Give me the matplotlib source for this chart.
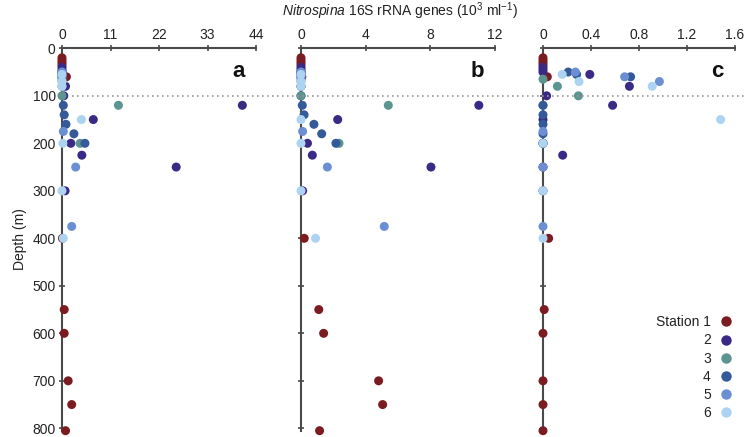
import matplotlib
matplotlib.use("Agg")
import matplotlib.pyplot as plt
import matplotlib.transforms as mtransforms
from matplotlib.lines import Line2D

plt.rcParams['font.family'] = ['Liberation Sans', 'DejaVu Sans']
plt.rcParams['mathtext.fontset'] = 'custom'
plt.rcParams['mathtext.rm'] = 'Liberation Sans'
plt.rcParams['mathtext.it'] = 'Liberation Sans:italic'

# station labels and colours
station_labels = ['Station 1', '2', '3', '4', '5', '6']
station_colors = ['#7b1c22', '#3a2a85', '#5b9490', '#345a9a', '#6c8fd4', '#acd4f2']

# depths (m) per station
depth_s1 = [20, 25, 30, 35, 60, 400, 550, 600, 700, 750, 805]
depth_s2 = [40, 45, 50, 55, 80, 100, 120, 150, 200, 225, 250, 300]
depth_s3 = [65, 80, 100, 120, 200]
depth_s4 = [50, 55, 60, 120, 140, 160, 180, 200]
depth_s5 = [50, 60, 70, 175, 250, 375]
depth_s6 = [55, 70, 80, 150, 200, 300, 400]

# panel a values
a_s1 = [0, 0, 0, 0, 1.0, 0.1, 0.5, 0.5, 1.4, 2.2, 0.8]
a_s2 = [0, 0, 0, 0, 0.8, 0.4, 40.9, 7.1, 2.0, 4.5, 25.9, 0.7]
a_s3 = [0, 0, 0, 12.8, 4.1]
a_s4 = [0, 0, 0, 0.3, 0.5, 0.9, 2.7, 5.2]
a_s5 = [0, 0, 0, 0.3, 3.1, 2.2]
a_s6 = [0, 0, 0, 4.4, 0.2, 0, 0.3]

# panel b values
b_s1 = [0, 0, 0, 0, 0.05, 0.2, 1.1, 1.4, 4.8, 5.05, 1.15]
b_s2 = [0, 0, 0, 0, 0, 0, 11.0, 2.27, 0.4, 0.7, 8.04, 0.1]
b_s3 = [0, 0, 0, 5.4, 2.35]
b_s4 = [0, 0, 0, 0.08, 0.19, 0.8, 1.28, 2.16]
b_s5 = [0, 0, 0, 0.1, 1.63, 5.15]
b_s6 = [0, 0, 0, 0, 0, 0, 0.9]

# panel c values
c_s1 = [0, 0, 0, 0, 0.036, 0.047, 0.01, 0, 0, 0, 0]
c_s2 = [0, 0, 0, 0.39, 0.72, 0.03, 0.58, 0, 0, 0.164, 0, 0]
c_s3 = [0, 0.12, 0.295, 0, 0]
c_s4 = [0.21, 0.28, 0.73, 0, 0, 0, 0, 0]
c_s5 = [0.27, 0.68, 0.97, 0, 0, 0]
c_s6 = [0.16, 0.30, 0.91, 1.48, 0, 0, 0]

depths = [depth_s1, depth_s2, depth_s3, depth_s4, depth_s5, depth_s6]
panel_vals = [
    [a_s1, a_s2, a_s3, a_s4, a_s5, a_s6],
    [b_s1, b_s2, b_s3, b_s4, b_s5, b_s6],
    [c_s1, c_s2, c_s3, c_s4, c_s5, c_s6],
]
panel_letters = ['a', 'b', 'c']
panel_xticks = [[0, 11, 22, 33, 44], [0, 4, 8, 12], [0, 0.4, 0.8, 1.2, 1.6]]
panel_xticklabels = [['0', '11', '22', '33', '44'], ['0', '4', '8', '12'],
                     ['0', '0.4', '0.8', '1.2', '1.6']]
depth_ticks = [0, 100, 200, 300, 400, 500, 600, 700, 800]

W, H = 746, 437
fig = plt.figure(figsize=(W / 100, H / 100), dpi=100)
lefts = [62, 301, 543]
widths = [194, 194, 192]
top_px, bot_px = 48.3, 430.7
txt_col = '#222222'
spine_col = '#4a4a4a'

axes = []
for i in range(3):
    ax = fig.add_axes([lefts[i] / W, 1 - bot_px / H, widths[i] / W, (bot_px - top_px) / H])
    ax.set_facecolor('none')
    for s, v, c in zip(depths, panel_vals[i], station_colors):
        ax.scatter(v, s, s=42, color=c, edgecolors='none', clip_on=False, zorder=3)
    ax.set_xlim(0, panel_xticks[i][-1])
    ax.set_ylim(805, 0)
    ax.spines['bottom'].set_visible(False)
    ax.spines['right'].set_visible(False)
    for sp in ['top', 'left']:
        ax.spines[sp].set_color(spine_col)
        ax.spines[sp].set_linewidth(1.5)
    ax.xaxis.tick_top()
    ax.set_xticks(panel_xticks[i])
    ax.set_xticklabels(panel_xticklabels[i])
    ax.set_yticks(depth_ticks)
    if i > 0:
        ax.set_yticklabels([])
    ax.tick_params(axis='both', direction='inout', length=5, width=1.2,
                   color=spine_col, labelsize=10, labelcolor=txt_col, pad=2)
    ax.text(0.91, 0.94, panel_letters[i], transform=ax.transAxes, fontsize=16,
            fontweight='bold', ha='center', va='center', color='#111111')
    axes.append(ax)

axes[0].set_ylabel('Depth (m)', fontsize=10, color=txt_col, labelpad=4)

fig.text(0.536, 0.975, r'$\it{Nitrospina}$ 16S rRNA genes (10$^{3}$ ml$^{-1}$)',
         fontsize=10, ha='center', va='center', color=txt_col)

# dotted reference line at 100 m across all panels
blend = mtransforms.blended_transform_factory(fig.transFigure, axes[0].transData)
fig.add_artist(Line2D([72 / W, 745 / W], [100, 100], transform=blend,
                      color='#9a9a9a', lw=1.2, ls=(0, (1, 2))))

handles = [Line2D([], [], marker='o', ls='', color=c, markersize=7.5, markeredgewidth=0)
           for c in station_colors]
axes[2].legend(handles, station_labels, loc='lower right', bbox_to_anchor=(740 / W, 1 - 427 / H),
               bbox_transform=fig.transFigure, frameon=False, markerfirst=False,
               fontsize=10, labelspacing=0.3, handlelength=1.0, handletextpad=0.6,
               borderpad=0, labelcolor=txt_col)

fig.savefig('out.png', dpi=100)
